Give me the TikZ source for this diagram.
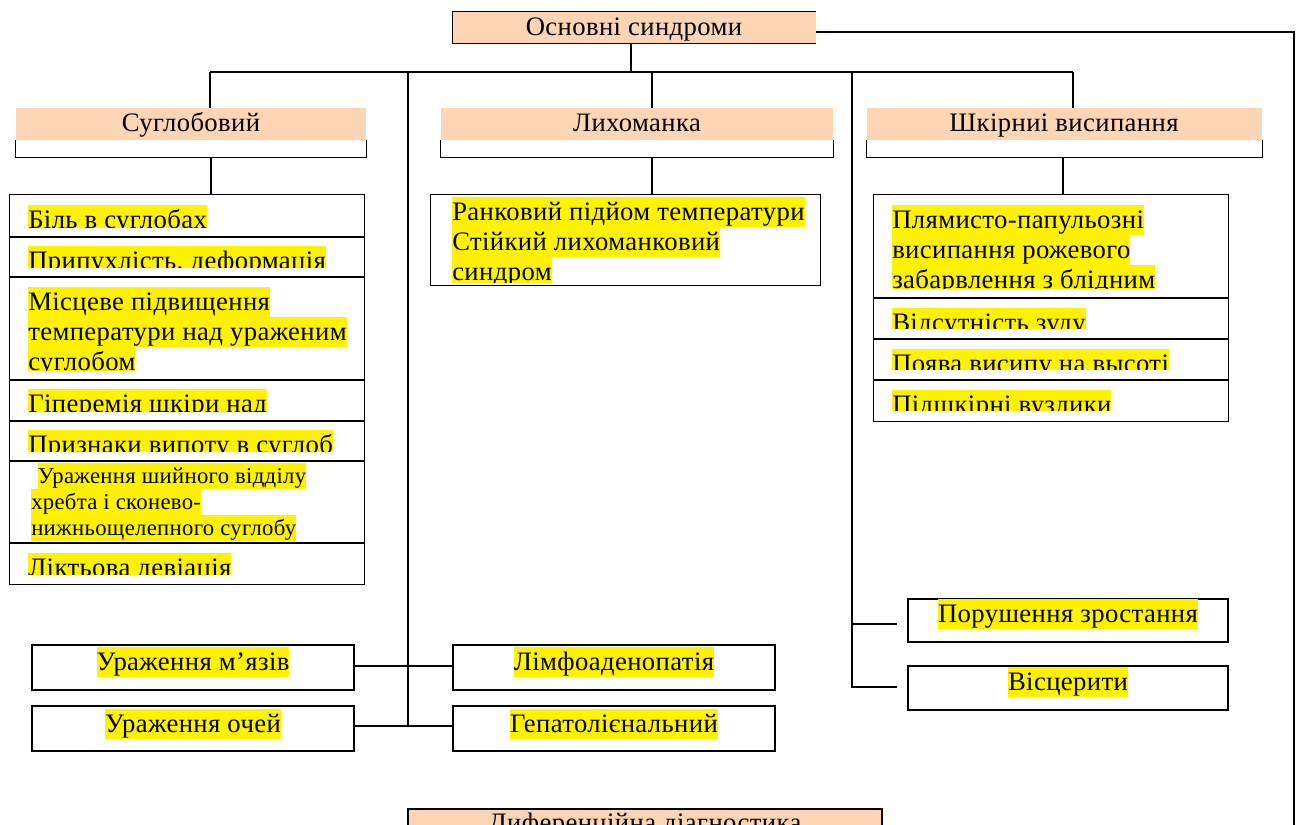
\documentclass[tikz,border=0pt]{standalone}
\usepackage{fontspec}
\setmainfont{Liberation Serif}[LetterSpace=1.5]
\usetikzlibrary{fit}
\definecolor{peach}{RGB}{252,213,181}
\newcommand\hlA[1]{{\setlength{\fboxsep}{0pt}\colorbox{yellow}{\rule[-5.25pt]{0pt}{22.5pt}#1}}}
\newcommand\hlB[1]{{\setlength{\fboxsep}{0pt}\colorbox{yellow}{\rule[-4.5pt]{0pt}{19.5pt}#1}}}
\tikzset{
 ln/.style={line width=1.1pt, draw=black},
 cell/.style={draw=black, line width=1.1pt, inner sep=0pt},
 pfill/.style={fill=peach, inner sep=0pt},
 big/.style={font=\fontsize{20pt}{22.5pt}\selectfont, inner sep=0pt, align=left, anchor=north west},
 mid/.style={font=\fontsize{17pt}{19.5pt}\selectfont, inner sep=0pt, align=left, anchor=north west},
 hdr/.style={font=\fontsize{20pt}{24pt}\selectfont, inner sep=0pt, anchor=base},
 one/.style={font=\fontsize{20pt}{22.5pt}\selectfont, inner sep=0pt, anchor=north},
}
\begin{document}
\begin{tikzpicture}[x=0.75pt,y=-0.75pt]
\useasboundingbox (0,0) rectangle (1304,825);
\clip (0,0) rectangle (1304,825);

% ---------- top box
\node[fit={(453,12) (816,43)}, pfill] (main) {};
\draw[ln] (main.north east) -- (main.north west) -- (main.south west) -- (main.south east);
\node[hdr] (mainT) at (634,35) {Основні синдроми};

% ---------- headers
\node[fit={(16,108) (366,140)}, pfill] (hA) {};
\node[fit={(16,140) (366,157)}, inner sep=0pt] (hAb) {};
\draw[ln] (hAb.north west) -- (hAb.south west) -- (hAb.south east) -- (hAb.north east);
\node[hdr] (hAT) at (191,131) {Суглобовий};

\node[fit={(441,108) (833,140)}, pfill] (hB) {};
\node[fit={(441,140) (833,157)}, inner sep=0pt] (hBb) {};
\draw[ln] (hBb.north west) -- (hBb.south west) -- (hBb.south east) -- (hBb.north east);
\node[hdr] (hBT) at (637,131) {Лихоманка};

\node[fit={(867,108) (1262,140)}, pfill] (hC) {};
\node[fit={(867,140) (1262,157)}, inner sep=0pt] (hCb) {};
\draw[ln] (hCb.north west) -- (hCb.south west) -- (hCb.south east) -- (hCb.north east);
\node[hdr] (hCT) at (1064,131) {Шкірниі висипання};

% ---------- list A (Суглобовий)
\node[fit={(10,195) (364,237)}, inner sep=0pt] (a1) {};
\node[fit={(10,237) (364,277)}, inner sep=0pt] (a2) {};
\node[fit={(10,277) (364,380)}, inner sep=0pt] (a3) {};
\node[fit={(10,380) (364,421)}, inner sep=0pt] (a4) {};
\node[fit={(10,421) (364,461)}, inner sep=0pt] (a5) {};
\node[fit={(10,461) (364,543)}, inner sep=0pt] (a6) {};
\node[fit={(10,543) (364,584)}, inner sep=0pt] (a7) {};
\begin{scope}\clip (a1.north west) rectangle ([yshift=7.5pt]a1.south east);
\node[big] (a1T) at (28,205) {\hlA{Біль в суглобах}};\end{scope}
\begin{scope}\clip (a2.north west) rectangle ([yshift=7.5pt]a2.south east);
\node[big] (a2T) at (28,246) {\hlA{Припухлість, деформація}};\end{scope}
\begin{scope}\clip (a3.north west) rectangle ([yshift=7.5pt]a3.south east);
\node[big] (a3T) at (28,287) {\hlA{Місцеве підвищення}\\\hlA{температури над ураженим}\\\hlA{суглобом}};\end{scope}
\begin{scope}\clip (a4.north west) rectangle ([yshift=7.5pt]a4.south east);
\node[big] (a4T) at (28,389) {\hlA{Гіперемія шкіри над}};\end{scope}
\begin{scope}\clip (a5.north west) rectangle ([yshift=7pt]a5.south east);
\node[big] (a5T) at (28,430) {\hlA{Признаки випоту в суглоб}};\end{scope}
\begin{scope}\clip (a6.north west) rectangle ([yshift=0.75pt]a6.south east);
\node[mid] (a6T) at (31,463) {\hspace*{5pt}\hlB{Ураження шийного відділу}\\\hlB{хребта і сконево-}\\\hlB{нижньощелепного суглобу}};\end{scope}
\begin{scope}\clip (a7.north west) rectangle ([yshift=7.5pt]a7.south east);
\node[big] (a7T) at (28,553) {\hlA{Ліктьова девіація}};\end{scope}
\foreach \c in {a1,a2,a3,a4,a5,a6,a7} \draw[ln] (\c.north west) rectangle (\c.south east);

% ---------- list B (Лихоманка)
\node[fit={(431,195) (820,285)}, inner sep=0pt] (b1) {};
\begin{scope}\clip (b1.north west) rectangle ([yshift=2pt]b1.south east);
\node[big] (b1T) at (452,197) {\hlA{Ранковий підйом температури}\\\hlA{Стійкий лихоманковий}\\\hlA{синдром}};\end{scope}
\draw[ln] (b1.north west) rectangle (b1.south east);

% ---------- list C (Шкірні)
\node[fit={(874,195) (1228,298)}, inner sep=0pt] (c1) {};
\node[fit={(874,298) (1228,339)}, inner sep=0pt] (c2) {};
\node[fit={(874,339) (1228,380)}, inner sep=0pt] (c3) {};
\node[fit={(874,380) (1228,421)}, inner sep=0pt] (c4) {};
\begin{scope}\clip (c1.north west) rectangle ([yshift=7.5pt]c1.south east);
\node[big] (c1T) at (892,205) {\hlA{Плямисто-папульозні}\\\hlA{висипання рожевого}\\\hlA{забарвлення з блідним}};\end{scope}
\begin{scope}\clip (c2.north west) rectangle ([yshift=8pt]c2.south east);
\node[big] (c2T) at (892,308) {\hlA{Відсутність зуду}};\end{scope}
\begin{scope}\clip (c3.north west) rectangle ([yshift=8pt]c3.south east);
\node[big] (c3T) at (892,349) {\hlA{Поява висипу на высоті}};\end{scope}
\begin{scope}\clip (c4.north west) rectangle ([yshift=8pt]c4.south east);
\node[big] (c4T) at (892,390) {\hlA{Підшкірні вузлики}};\end{scope}
\foreach \c in {c1,c2,c3,c4} \draw[ln] (\c.north west) rectangle (\c.south east);

% ---------- bottom boxes
\node[fit={(32,645) (354,690)}, cell] (musc) {};
\node[one] (muscT) at (193,647) {\hlA{Ураження м’язів}};
\node[fit={(32,706) (354,751)}, cell] (eyes) {};
\node[one] (eyesT) at (193,709) {\hlA{Ураження очей}};
\node[fit={(453,645) (775,690)}, cell] (lymph) {};
\node[one] (lymphT) at (614,647) {\hlA{Лімфоаденопатія}};
\node[fit={(453,706) (775,751)}, cell] (hep) {};
\node[one] (hepT) at (614,709) {\hlA{Гепатолієнальний}};
\node[fit={(908,599) (1228,642)}, cell] (grow) {};
\node[one] (growT) at (1068,599) {\hlA{Порушення зростання}};
\node[fit={(908,666) (1228,710)}, cell] (visc) {};
\node[one] (viscT) at (1068,667) {\hlA{Вісцерити}};

% ---------- partially visible bottom box
\node[fit={(408,809) (882,870)}, cell, fill=peach] (diff) {};
\node[hdr] (diffT) at (645,831) {Диференційна діагностика};

% ---------- connectors
\coordinate (j0) at (631,72);
\draw[ln] (j0 |- main.south) -- (j0);
\coordinate (bL) at (210,72);
\coordinate (bR) at (1073,72);
\draw[ln] (bL) -- (bR);
\draw[ln] (bL) -- (bL |- hA.north);
\coordinate (bB) at (652,72);
\draw[ln] (bB) -- (bB |- hB.north);
\draw[ln] (bR) -- (bR |- hC.north);

\coordinate (uA) at (211,160);
\draw[ln] (uA |- hAb.south) -- (uA |- a1.north);
\coordinate (uB) at (652,160);
\draw[ln] (uB |- hBb.south) -- (uB |- b1.north);
\coordinate (uC) at (1063,160);
\draw[ln] (uC |- hCb.south) -- (uC |- c1.north);

\coordinate (v1) at (408,72);
\coordinate (m1) at (408,666);
\coordinate (e1) at (408,726);
\draw[ln] (v1) -- (e1);
\draw[ln] (musc.east |- m1) -- (lymph.west |- m1);
\draw[ln] (eyes.east |- e1) -- (hep.west |- e1);

\coordinate (v2) at (852,72);
\coordinate (g1) at (852,624);
\coordinate (g2) at (852,687);
\coordinate (g1e) at (897,624);
\coordinate (g2e) at (897,687);
\draw[ln] (v2) -- (g2) -- (g2e);
\draw[ln] (g1) -- (g1e);

\coordinate (rc) at (1294,32);
\coordinate (rb) at (1294,830);
\draw[ln] (main.east |- rc) -- (rc) -- (rb);
\end{tikzpicture}
\end{document}
